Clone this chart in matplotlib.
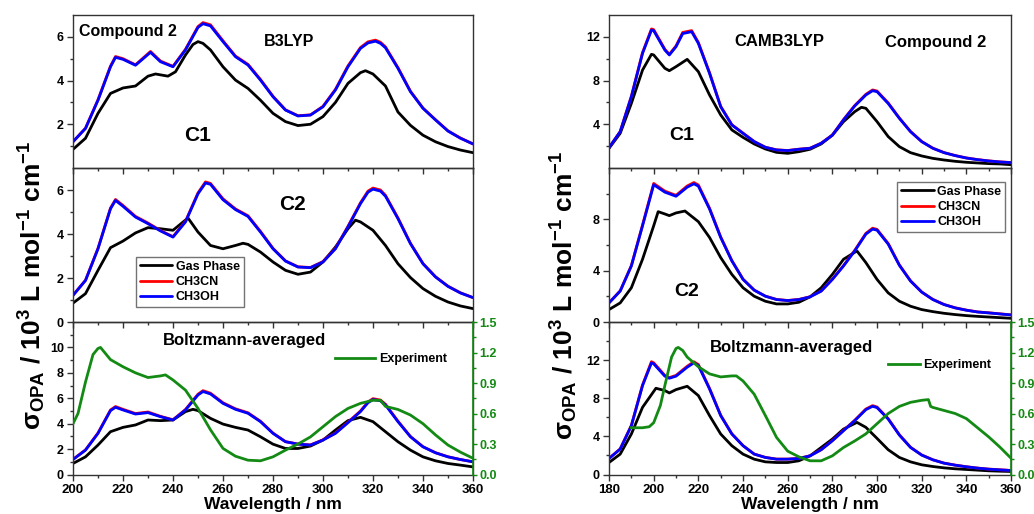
import numpy as np
import matplotlib.pyplot as plt
from matplotlib.ticker import MultipleLocator, FixedLocator, FormatStrFormatter

plt.rcParams['font.family'] = ['Liberation Sans', 'DejaVu Sans']
plt.rcParams['font.weight'] = 'bold'
plt.rcParams['axes.labelweight'] = 'bold'
plt.rcParams['mathtext.fontset'] = 'custom'
plt.rcParams['mathtext.rm'] = 'Liberation Sans:bold'
plt.rcParams['mathtext.bf'] = 'Liberation Sans:bold'
plt.rcParams['mathtext.it'] = 'Liberation Sans:bold'

# ---------------- B3LYP (left) ----------------
b_c1_gas_wl = [200, 205, 210, 215, 220, 225, 230, 233, 238, 241, 245, 248, 250, 252, 255, 260, 265, 270, 275, 280,
               285, 290, 295, 300, 305, 310, 315, 317, 320, 325, 330, 335, 340, 345, 350, 355, 360]
b_c1_gas = [0.85, 1.36, 2.5, 3.41, 3.66, 3.75, 4.2, 4.3, 4.2, 4.4, 5.17, 5.65, 5.78, 5.7, 5.4, 4.63, 4.02, 3.64, 3.1, 2.5,
            2.12, 1.94, 2.0, 2.35, 3.0, 3.87, 4.36, 4.45, 4.3, 3.75, 2.56, 1.95, 1.5, 1.2, 0.98, 0.82, 0.7]
b_c1_sol_wl = [200, 205, 210, 215, 217, 220, 225, 231, 235, 240, 245, 250, 252, 255, 260, 265, 270, 275, 280,
               285, 290, 295, 300, 305, 310, 315, 318, 321, 323, 325, 330, 335, 340, 345, 350, 355, 360]
b_c1_ch3oh = [1.2, 1.81, 3.1, 4.63, 5.06, 4.97, 4.7, 5.29, 4.86, 4.63, 5.4, 6.43, 6.6, 6.5, 5.78, 5.09, 4.71, 4.02, 3.26,
              2.65, 2.38, 2.42, 2.8, 3.57, 4.63, 5.47, 5.72, 5.8, 5.7, 5.5, 4.56, 3.49, 2.73, 2.2, 1.69, 1.36, 1.1]
b_c1_ch3cn = [1.2, 1.82, 3.12, 4.66, 5.1, 5.0, 4.72, 5.33, 4.89, 4.65, 5.43, 6.47, 6.65, 6.55, 5.82, 5.12, 4.74, 4.05, 3.28,
              2.66, 2.39, 2.43, 2.82, 3.6, 4.67, 5.51, 5.77, 5.85, 5.75, 5.54, 4.59, 3.51, 2.74, 2.21, 1.7, 1.37, 1.1]

b_c2_gas_wl = [200, 205, 210, 215, 220, 225, 230, 235, 240, 246, 250, 255, 260, 265, 268, 270, 275, 280,
               285, 290, 295, 300, 305, 310, 313, 315, 320, 325, 330, 335, 340, 345, 350, 355, 360]
b_c2_gas = [0.86, 1.29, 2.35, 3.38, 3.68, 4.05, 4.29, 4.24, 4.17, 4.73, 4.09, 3.48, 3.33, 3.48, 3.58, 3.53, 3.18, 2.73,
            2.35, 2.17, 2.27, 2.73, 3.41, 4.24, 4.63, 4.55, 4.17, 3.48, 2.65, 2.02, 1.52, 1.17, 0.91, 0.73, 0.61]
b_c2_sol_wl = [200, 205, 210, 215, 217, 220, 225, 230, 235, 240, 245, 250, 253, 255, 260, 265, 270, 275, 280,
               285, 290, 295, 300, 305, 310, 315, 318, 320, 323, 325, 330, 335, 340, 345, 350, 355, 360]
b_c2_ch3oh = [1.21, 1.89, 3.33, 5.15, 5.53, 5.26, 4.77, 4.47, 4.14, 3.86, 4.55, 5.83, 6.32, 6.26, 5.56, 5.11, 4.8, 4.09, 3.33,
              2.77, 2.5, 2.47, 2.73, 3.33, 4.32, 5.38, 5.9, 6.04, 5.95, 5.72, 4.7, 3.56, 2.65, 2.05, 1.62, 1.32, 1.11]
b_c2_ch3cn = [1.22, 1.9, 3.35, 5.18, 5.57, 5.3, 4.8, 4.5, 4.16, 3.88, 4.58, 5.87, 6.37, 6.3, 5.6, 5.14, 4.83, 4.12, 3.35,
              2.78, 2.51, 2.48, 2.75, 3.35, 4.35, 5.42, 5.95, 6.09, 6.0, 5.76, 4.73, 3.58, 2.66, 2.06, 1.63, 1.33, 1.11]

b_bz_gas_wl = [200, 205, 210, 215, 220, 225, 230, 235, 240, 245, 248, 250, 255, 260, 265, 270, 275, 280,
               285, 290, 295, 300, 305, 310, 315, 320, 325, 330, 335, 340, 345, 350, 355, 360]
b_bz_gas = [0.87, 1.39, 2.32, 3.37, 3.71, 3.9, 4.29, 4.24, 4.29, 4.95, 5.13, 5.03, 4.42, 3.97, 3.71, 3.5, 2.97, 2.39,
            2.05, 2.05, 2.24, 2.71, 3.5, 4.24, 4.5, 4.16, 3.37, 2.58, 1.92, 1.39, 1.08, 0.87, 0.74, 0.6]
b_bz_sol_wl = [200, 205, 210, 215, 217, 220, 225, 230, 235, 240, 245, 250, 252, 255, 260, 265, 270, 275, 280,
               285, 290, 295, 300, 305, 310, 315, 318, 320, 323, 325, 330, 335, 340, 345, 350, 355, 360]
b_bz_ch3oh = [1.18, 1.92, 3.24, 5.03, 5.29, 5.08, 4.76, 4.87, 4.55, 4.29, 5.08, 6.26, 6.53, 6.34, 5.6, 5.13, 4.82, 4.16, 3.24,
              2.58, 2.39, 2.32, 2.71, 3.24, 4.08, 4.95, 5.65, 5.9, 5.8, 5.47, 4.16, 2.97, 2.18, 1.71, 1.39, 1.18, 1.0]
b_bz_ch3cn = [1.19, 1.94, 3.27, 5.08, 5.35, 5.13, 4.8, 4.92, 4.58, 4.31, 5.12, 6.32, 6.6, 6.4, 5.65, 5.17, 4.86, 4.19, 3.26,
              2.59, 2.4, 2.33, 2.73, 3.27, 4.12, 5.0, 5.71, 5.97, 5.86, 5.53, 4.2, 2.99, 2.19, 1.72, 1.4, 1.18, 1.0]

b_exp_wl = [200, 202, 205, 208, 210, 211, 213, 215, 220, 225, 230, 235, 237, 240, 245, 250, 255, 260, 265, 270,
            275, 280, 285, 290, 295, 300, 305, 310, 315, 320, 323, 325, 330, 335, 340, 345, 350, 355, 360]
b_exp = [0.5, 0.6, 0.91, 1.18, 1.24, 1.25, 1.19, 1.13, 1.06, 1.0, 0.954, 0.97, 0.98, 0.93, 0.83, 0.65, 0.44, 0.257, 0.18, 0.141,
         0.135, 0.174, 0.24, 0.3, 0.37, 0.47, 0.57, 0.65, 0.7, 0.73, 0.73, 0.67, 0.64, 0.585, 0.5, 0.39, 0.29, 0.22, 0.16]

# ---------------- CAMB3LYP (right) ----------------
c_c1_gas_wl = [180, 185, 190, 195, 199, 200, 205, 207, 210, 215, 220, 225, 230, 235, 240, 245, 250, 255, 260, 265,
               270, 275, 280, 285, 290, 293, 295, 300, 305, 310, 315, 320, 325, 330, 335, 340, 345, 350, 355, 360]
c_c1_gas = [1.8, 3.17, 5.91, 8.96, 10.4, 10.34, 9.12, 8.9, 9.27, 9.94, 8.81, 6.68, 4.85, 3.48, 2.8, 2.2, 1.74, 1.43, 1.34, 1.49,
            1.71, 2.2, 3.0, 4.24, 5.15, 5.55, 5.46, 4.24, 2.87, 1.95, 1.4, 1.1, 0.88, 0.73, 0.61, 0.52, 0.46, 0.4, 0.37, 0.3]
c_c1_sol_wl = [180, 185, 190, 195, 199, 200, 205, 207, 210, 213, 217, 220, 225, 230, 235, 240, 245, 250, 255, 260, 265,
               270, 275, 280, 285, 290, 295, 298, 300, 305, 310, 315, 320, 325, 330, 335, 340, 345, 350, 355, 360]
c_c1_ch3oh = [1.86, 3.32, 6.52, 10.49, 12.62, 12.56, 10.79, 10.34, 11.1, 12.3, 12.47, 11.4, 8.66, 5.6, 3.93, 3.17, 2.41, 1.89,
              1.65, 1.59, 1.71, 1.8, 2.26, 3.0, 4.4, 5.67, 6.68, 7.07, 6.98, 5.9, 4.54, 3.32, 2.41, 1.8, 1.4, 1.13, 0.91,
              0.76, 0.64, 0.55, 0.49]
c_c1_ch3cn = [1.86, 3.34, 6.56, 10.56, 12.72, 12.66, 10.86, 10.4, 11.17, 12.4, 12.57, 11.48, 8.72, 5.64, 3.96, 3.19, 2.42, 1.9,
              1.66, 1.6, 1.72, 1.81, 2.27, 3.02, 4.43, 5.71, 6.74, 7.14, 7.04, 5.95, 4.57, 3.34, 2.42, 1.81, 1.41, 1.14, 0.92,
              0.77, 0.65, 0.56, 0.5]

c_c2_gas_wl = [180, 185, 190, 195, 200, 202, 205, 207, 210, 214, 220, 225, 230, 235, 240, 245, 250, 255, 260, 265,
               270, 275, 280, 285, 291, 295, 300, 305, 310, 315, 320, 325, 330, 335, 340, 345, 350, 355, 360]
c_c2_gas = [0.97, 1.49, 2.67, 4.89, 7.5, 8.6, 8.42, 8.29, 8.5, 8.65, 7.82, 6.59, 5.02, 3.71, 2.67, 2.01, 1.62, 1.41, 1.41, 1.54,
            1.96, 2.67, 3.71, 4.89, 5.54, 4.63, 3.32, 2.27, 1.62, 1.23, 0.97, 0.81, 0.68, 0.58, 0.5, 0.44, 0.39, 0.34, 0.29]
c_c2_sol_wl = [180, 185, 190, 195, 200, 205, 210, 215, 218, 220, 225, 230, 235, 240, 245, 250, 255, 260, 265,
               270, 275, 280, 285, 290, 295, 298, 300, 305, 310, 315, 320, 325, 330, 335, 340, 345, 350, 355, 360]
c_c2_ch3oh = [1.49, 2.41, 4.37, 7.5, 10.7, 10.12, 9.8, 10.51, 10.77, 10.59, 8.81, 6.59, 4.76, 3.32, 2.48, 2.01, 1.75, 1.67, 1.75,
              1.96, 2.41, 3.32, 4.37, 5.54, 6.85, 7.24, 7.16, 6.07, 4.42, 3.19, 2.33, 1.75, 1.36, 1.1, 0.92, 0.78, 0.71, 0.63, 0.55]
c_c2_ch3cn = [1.5, 2.43, 4.4, 7.56, 10.8, 10.2, 9.87, 10.6, 10.87, 10.68, 8.87, 6.63, 4.79, 3.34, 2.49, 2.02, 1.76, 1.68, 1.76,
              1.97, 2.42, 3.34, 4.4, 5.58, 6.91, 7.31, 7.22, 6.12, 4.45, 3.21, 2.34, 1.76, 1.37, 1.11, 0.93, 0.79, 0.72, 0.64, 0.56]

c_bz_gas_wl = [180, 185, 190, 195, 201, 205, 207, 210, 215, 220, 225, 230, 235, 240, 245, 250, 255, 260, 265,
               270, 275, 280, 285, 291, 295, 300, 305, 310, 315, 320, 325, 330, 335, 340, 345, 350, 355, 360]
c_bz_gas = [1.26, 2.14, 4.25, 7.05, 9.05, 8.81, 8.56, 8.91, 9.26, 8.28, 6.18, 4.25, 3.02, 2.14, 1.61, 1.33, 1.26, 1.26, 1.44,
            1.96, 2.84, 3.72, 4.77, 5.47, 4.95, 3.79, 2.6, 1.79, 1.33, 1.02, 0.84, 0.7, 0.6, 0.53, 0.46, 0.39, 0.35, 0.32]
c_bz_sol_wl = [180, 185, 190, 195, 199, 200, 205, 207, 210, 215, 218, 220, 225, 230, 235, 240, 245, 250, 255, 260, 265,
               270, 275, 280, 285, 290, 295, 298, 300, 305, 310, 315, 320, 325, 330, 335, 340, 345, 350, 355, 360]
c_bz_ch3oh = [1.68, 2.67, 5.12, 9.33, 11.72, 11.61, 10.32, 10.1, 10.32, 11.26, 11.72, 11.44, 8.98, 6.18, 4.25, 3.02, 2.14, 1.79,
              1.61, 1.61, 1.68, 1.96, 2.6, 3.54, 4.6, 5.65, 6.81, 7.16, 7.02, 5.82, 4.14, 2.84, 2.04, 1.54, 1.19, 0.98, 0.81,
              0.67, 0.56, 0.49, 0.42]
c_bz_ch3cn = [1.69, 2.69, 5.16, 9.4, 11.84, 11.72, 10.4, 10.17, 10.4, 11.36, 11.83, 11.54, 9.04, 6.22, 4.27, 3.03, 2.15, 1.8,
              1.62, 1.62, 1.69, 1.97, 2.61, 3.56, 4.63, 5.69, 6.87, 7.23, 7.08, 5.86, 4.17, 2.86, 2.05, 1.55, 1.2, 0.99, 0.82,
              0.68, 0.57, 0.5, 0.43]

c_exp_wl = [190, 195, 198, 200, 203, 205, 208, 210, 211, 213, 215, 220, 225, 230, 235, 237, 240, 245, 250, 255, 260,
            265, 270, 275, 280, 285, 290, 295, 300, 305, 310, 315, 320, 323, 324, 325, 330, 335, 340, 345, 350, 355, 360]
c_exp = [0.46, 0.46, 0.47, 0.51, 0.68, 0.875, 1.155, 1.24, 1.25, 1.22, 1.155, 1.06, 0.99, 0.96, 0.97, 0.97, 0.92, 0.79, 0.58,
         0.365, 0.23, 0.174, 0.135, 0.135, 0.184, 0.266, 0.33, 0.4, 0.5, 0.6, 0.67, 0.71, 0.73, 0.737, 0.67, 0.66, 0.63,
         0.6, 0.55, 0.46, 0.37, 0.27, 0.16]

GREEN = '#138a13'
SPINE = '#333333'
LW = 2.0

fig = plt.figure(figsize=(10.34, 5.14), dpi=100)

bottoms = [0.6732, 0.3735, 0.0768]
heights = [0.2977, 0.2996, 0.2967]


def bold_ticks(ax):
    for lab in ax.get_xticklabels() + ax.get_yticklabels():
        lab.set_fontweight('bold')


def make_column(x0, w):
    axes = []
    for b, h in zip(bottoms, heights):
        ax = fig.add_axes([x0, b, w, h], sharex=axes[0] if axes else None)
        ax.set_facecolor('none')
        for s in ax.spines.values():
            s.set_color(SPINE)
            s.set_linewidth(1.0)
        ax.xaxis.set_major_locator(MultipleLocator(20))
        ax.xaxis.set_minor_locator(MultipleLocator(10))
        ax.tick_params(which='major', direction='out', length=4, width=1, labelsize=9, color=SPINE, pad=2.5)
        ax.tick_params(which='minor', direction='out', length=2.5, width=1, color=SPINE)
        ax.tick_params(axis='x', which='both', top=False, labelbottom=False)
        axes.append(ax)
    axes[2].tick_params(axis='x', labelbottom=True, labelsize=9.5)
    return axes


def draw(ax, gwl, gas, swl, cn, oh):
    kw = dict(lw=LW, solid_joinstyle='round', solid_capstyle='round')
    ax.plot(gwl, gas, color='black', label='Gas Phase', **kw)
    ax.plot(swl, cn, color='red', label='CH3CN', **kw)
    ax.plot(swl, oh, color='blue', label='CH3OH', **kw)


def add_exp(ax, wl, vals, anchor, hlen):
    g = ax.twinx()
    g.set_facecolor('none')
    g.plot(wl, vals, color=GREEN, lw=LW, solid_joinstyle='round', label='Experiment')
    g.set_ylim(0, 1.5)
    g.yaxis.set_major_locator(MultipleLocator(0.3))
    g.yaxis.set_minor_locator(MultipleLocator(0.15))
    g.yaxis.set_major_formatter(FormatStrFormatter('%.1f'))
    g.tick_params(which='major', direction='out', length=3, width=1, labelsize=9, color=GREEN,
                  labelcolor=GREEN, pad=1.5)
    g.tick_params(which='minor', direction='out', length=2, width=1, color=GREEN)
    for k in ['left', 'top', 'bottom']:
        g.spines[k].set_visible(False)
    g.spines['right'].set_color(GREEN)
    g.spines['right'].set_linewidth(1.2)
    g.legend(loc='center left', bbox_to_anchor=anchor, frameon=False, borderpad=0, borderaxespad=0,
             handlelength=hlen, handletextpad=0.3, prop={'weight': 'bold', 'size': 9})
    bold_ticks(g)
    return g


def legend_main(ax, loc, anchor):
    ax.legend(loc=loc, bbox_to_anchor=anchor, borderaxespad=0, handlelength=2.6, handletextpad=0.3,
              labelspacing=0.25, borderpad=0.3, fancybox=False, edgecolor='0.45', framealpha=1,
              prop={'weight': 'bold', 'size': 9})


# ---- left column ----
L = make_column(0.0706, 0.3868)
draw(L[0], b_c1_gas_wl, b_c1_gas, b_c1_sol_wl, b_c1_ch3cn, b_c1_ch3oh)
draw(L[1], b_c2_gas_wl, b_c2_gas, b_c2_sol_wl, b_c2_ch3cn, b_c2_ch3oh)
draw(L[2], b_bz_gas_wl, b_bz_gas, b_bz_sol_wl, b_bz_ch3cn, b_bz_ch3oh)
L[0].set_xlim(200, 360)
L[0].set_ylim(0, 7)
L[0].yaxis.set_major_locator(FixedLocator([2, 4, 6]))
L[0].yaxis.set_minor_locator(FixedLocator([1, 3, 5]))
L[1].set_ylim(0, 7)
L[1].yaxis.set_major_locator(FixedLocator([0, 2, 4, 6]))
L[1].yaxis.set_minor_locator(FixedLocator([1, 3, 5]))
L[2].set_ylim(0, 12)
L[2].yaxis.set_major_locator(FixedLocator([0, 2, 4, 6, 8, 10]))
L[2].yaxis.set_minor_locator(FixedLocator([1, 3, 5, 7, 9, 11]))
legend_main(L[1], 'upper left', (0.1575, 0.422))
add_exp(L[2], b_exp_wl, b_exp, (0.655, 0.757), 3.2)
L[0].text(0.015, 0.889, 'Compound 2', transform=L[0].transAxes, fontsize=11.5, ha='left', va='center')
L[0].text(0.54, 0.824, 'B3LYP', transform=L[0].transAxes, fontsize=11.5, ha='center', va='center')
L[0].text(0.3125, 0.209, 'C1', transform=L[0].transAxes, fontsize=15, ha='center', va='center')
L[1].text(0.55, 0.763, 'C2', transform=L[1].transAxes, fontsize=15, ha='center', va='center')
L[2].text(0.43, 0.882, 'Boltzmann-averaged', transform=L[2].transAxes, fontsize=12, ha='center', va='center')
L[2].set_xlabel('Wavelength / nm', fontsize=12.5, fontweight='bold', labelpad=1)

# ---- right column ----
R = make_column(0.589, 0.3888)
draw(R[0], c_c1_gas_wl, c_c1_gas, c_c1_sol_wl, c_c1_ch3cn, c_c1_ch3oh)
draw(R[1], c_c2_gas_wl, c_c2_gas, c_c2_sol_wl, c_c2_ch3cn, c_c2_ch3oh)
draw(R[2], c_bz_gas_wl, c_bz_gas, c_bz_sol_wl, c_bz_ch3cn, c_bz_ch3oh)
R[0].set_xlim(180, 360)
R[0].set_ylim(0, 14)
R[0].yaxis.set_major_locator(FixedLocator([4, 8, 12]))
R[0].yaxis.set_minor_locator(FixedLocator([2, 6, 10]))
R[1].set_ylim(0, 12)
R[1].yaxis.set_major_locator(FixedLocator([0, 4, 8]))
R[1].yaxis.set_minor_locator(FixedLocator([2, 6, 10]))
R[2].set_ylim(0, 16)
R[2].yaxis.set_major_locator(FixedLocator([0, 4, 8, 12]))
R[2].yaxis.set_minor_locator(FixedLocator([2, 6, 10, 14]))
legend_main(R[1], 'upper right', (0.985, 0.909))
add_exp(R[2], c_exp_wl, c_exp, (0.695, 0.718), 2.5)
R[0].text(0.423, 0.824, 'CAMB3LYP', transform=R[0].transAxes, fontsize=12, ha='center', va='center')
R[0].text(0.813, 0.817, 'Compound 2', transform=R[0].transAxes, fontsize=12, ha='center', va='center')
R[0].text(0.18, 0.209, 'C1', transform=R[0].transAxes, fontsize=14, ha='center', va='center')
R[1].text(0.194, 0.195, 'C2', transform=R[1].transAxes, fontsize=14, ha='center', va='center')
R[2].text(0.453, 0.83, 'Boltzmann-averaged', transform=R[2].transAxes, fontsize=12, ha='center', va='center')
R[2].set_xlabel('Wavelength / nm', fontsize=12.5, fontweight='bold', labelpad=1)

for ax in L + R:
    bold_ticks(ax)

ylab = 'σ$_{\\mathrm{OPA}}$ / 10$^{\\mathrm{3}}$ L mol$^{\\mathrm{-1}}$ cm$^{\\mathrm{-1}}$'
fig.text(0.031, 0.445, ylab, rotation=90, fontsize=19, ha='center', va='center')
fig.text(0.546, 0.425, ylab, rotation=90, fontsize=19, ha='center', va='center')

fig.savefig('out.png', dpi=100)
